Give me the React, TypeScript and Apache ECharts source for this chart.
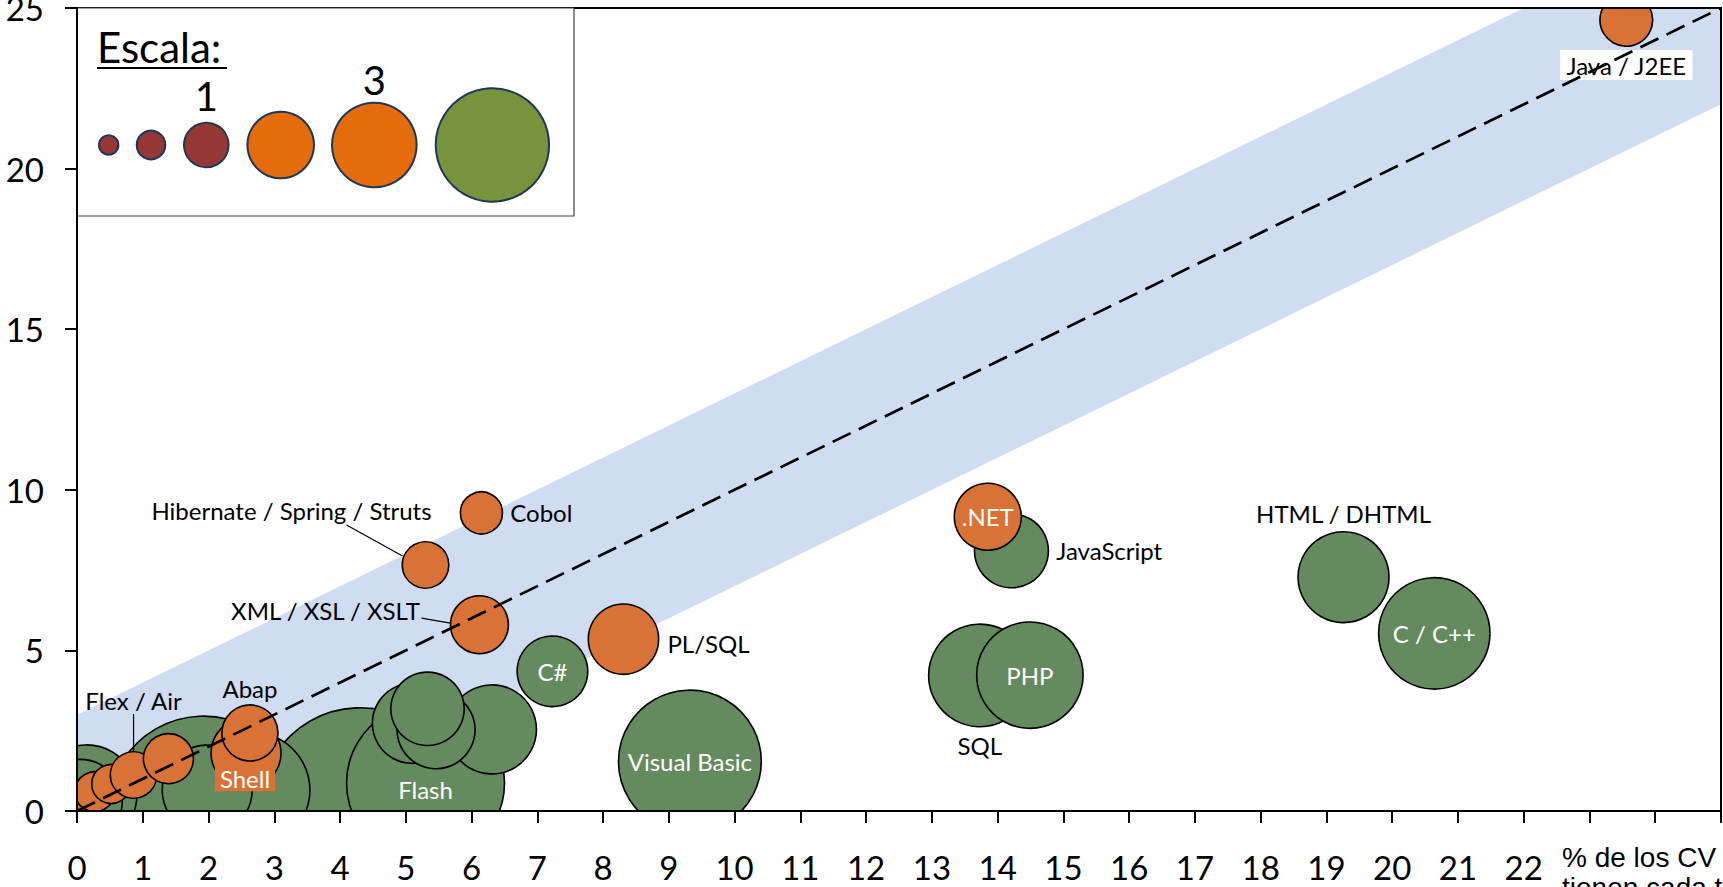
import React, { useEffect, useRef } from 'react';
import * as echarts from 'echarts';

// ---------- data ----------
const xTicksMaxLabel = 22;
const xMax = 25;
const yMax = 25;
const yInterval = 5;

// green bubbles (drawn bottom -> top)
const greenNames = ['', '', '', '', '', '', 'Flash', '', '', '', '', 'C#', 'Visual Basic', 'SQL', 'PHP', 'JavaScript', 'HTML / DHTML', 'C / C++'];
const greenX = [1.92, 0.15, 0.05, 4.30, 2.66, 1.98, 5.30, 6.31, 5.10, 5.46, 5.33, 7.23, 9.32, 13.73, 14.49, 14.21, 19.26, 20.64];
const greenY = [0.0, 0.5, 0.3, 0.1, 0.65, 0.65, 0.87, 2.54, 2.73, 2.53, 3.18, 4.35, 1.54, 4.22, 4.23, 8.10, 7.28, 5.53];
const greenSize = [18.1, 5.03, 3.55, 20.1, 6.76, 4.07, 12.55, 3.98, 3.22, 3.06, 2.71, 2.51, 10.25, 5.29, 5.69, 2.75, 4.16, 6.24];

// orange bubbles (drawn bottom -> top)
const orangeNames = ['', '', '', 'Flex / Air', '', 'Shell', 'Abap', 'XML / XSL / XSLT', 'Hibernate / Spring / Struts', 'Cobol', 'PL/SQL', '.NET', 'Java / J2EE'];
const orangeX = [0.05, 0.27, 0.52, 0.86, 1.39, 2.57, 2.63, 6.12, 5.30, 6.15, 8.31, 13.85, 23.56];
const orangeY = [0.22, 0.60, 0.84, 1.12, 1.63, 1.80, 2.43, 5.80, 7.66, 9.28, 5.35, 9.16, 24.63];
const orangeSize = [0.80, 0.80, 0.76, 1.09, 1.26, 2.46, 1.58, 1.69, 1.09, 0.89, 2.49, 2.26, 1.40];

// diagonal reference line and band
const diagX = [0, 25];
const diagY = [0, 25];
const bandHalfWidth = 3;

// scale legend
const scaleValues = [0.19, 0.41, 1, 2.23, 3.6, 6.46];
const scaleKinds = ['red', 'red', 'red', 'orange', 'orange', 'green'];
const scaleLabels = ['', '', '1', '', '3', ''];

const axisNameLines = ['% de los CV', 'tienen cada tecnología'];

// ---------- styles ----------
const FONT = 'Lato, "Noto Sans", sans-serif';
const GREEN = '#658a5f';
const ORANGE = '#d87236';
const UNIT_R = 22.3;
const sizeOf = (v: number) => 2 * UNIT_R * Math.sqrt(v);

const insideWhite = { position: 'inside', color: '#fff' };
const labelStyles: Record<string, any> = {
  'Visual Basic': { ...insideWhite },
  'Flash': { ...insideWhite, offset: [0, 6] },
  'C#': { ...insideWhite },
  'PHP': { ...insideWhite },
  'C / C++': { ...insideWhite },
  'SQL': { position: 'bottom', distance: 6 },
  'JavaScript': { position: 'right', distance: 7 },
  'HTML / DHTML': { position: 'top', distance: 5 },
  '.NET': { ...insideWhite },
  'Java / J2EE': { position: 'bottom', distance: 3, backgroundColor: '#fff', padding: [3, 6] },
  'Cobol': { position: 'right', distance: 7 },
  'PL/SQL': { position: 'right', distance: 8, offset: [0, 4] },
  'Abap': { position: 'top', distance: 4 },
  'Shell': { position: 'inside', color: '#fff', offset: [-1, 25], backgroundColor: ORANGE, padding: [1, 5] },
  'Flex / Air': { position: 'inside', offset: [0, -75] },
  'Hibernate / Spring / Struts': { position: 'inside', offset: [-134, -54] },
  'XML / XSL / XSLT': { position: 'inside', offset: [-154, -14] },
};

// leader lines relative to bubble centre (px)
const leaders: Record<string, number[]> = {
  'Flex / Air': [0, -61, 0, -23],
  'Hibernate / Spring / Struts': [-79, -40, -23, -9],
  'XML / XSL / XSLT': [-58, -6.5, -29, -1.5],
};

function buildData(names: string[], xs: number[], ys: number[], sizes: number[]) {
  return xs.map((x, i) => {
    const name = names[i];
    const item: any = { name, value: [x, ys[i], sizes[i]] };
    if (name && labelStyles[name]) {
      item.label = { show: true, formatter: name, ...labelStyles[name] };
    }
    return item;
  });
}

export default function App() {
  const ref = useRef<HTMLDivElement>(null);
  useEffect(() => {
    const chart = echarts.init(ref.current!, null, { renderer: 'svg' });
    const bubbleLabel = { show: false, fontFamily: FONT, fontSize: 24, color: '#000' };
    const option: any = {
      animation: false,
      backgroundColor: '#fff',
      grid: { left: 77, top: 8, right: 2, bottom: 76, containLabel: false, outerBoundsMode: 'none' },
      xAxis: {
        type: 'value', min: 0, max: xMax, interval: 1, z: 10,
        axisLine: { show: true, onZero: false, lineStyle: { color: '#000', width: 2 } },
        axisTick: { show: true, length: 12, lineStyle: { color: '#000', width: 2 } },
        axisLabel: {
          margin: 39, fontSize: 33, fontFamily: FONT, color: '#000', showMaxLabel: true,
          formatter: (v: number) => (v <= xTicksMaxLabel ? String(v) : ''),
        },
        splitLine: { show: false },
      },
      yAxis: {
        type: 'value', min: 0, max: yMax, interval: yInterval, z: 10,
        axisLine: { show: true, onZero: false, lineStyle: { color: '#000', width: 2 } },
        axisTick: { show: true, length: 12, lineStyle: { color: '#000', width: 2 } },
        axisLabel: { margin: 33, fontSize: 33, fontFamily: FONT, color: '#000', showMaxLabel: true },
        splitLine: { show: false },
      },
      series: [
        {
          type: 'custom', z: 1, clip: true, silent: true,
          data: [[diagX[0], diagX[1], bandHalfWidth]],
          renderItem: (params: any, api: any) => {
            const x0 = api.value(0), x1 = api.value(1), w = api.value(2);
            const pts = [api.coord([x0, x0 - w]), api.coord([x1, x1 - w]), api.coord([x1, x1 + w]), api.coord([x0, x0 + w])];
            return { type: 'polygon', shape: { points: pts }, style: { fill: '#d0dcf1' } };
          },
        },
        {
          type: 'scatter', z: 2, silent: true,
          symbolSize: (val: number[]) => sizeOf(val[2]),
          itemStyle: { color: GREEN, borderColor: '#000', borderWidth: 1.6, opacity: 1 },
          label: bubbleLabel,
          data: buildData(greenNames, greenX, greenY, greenSize),
        },
        {
          type: 'scatter', z: 2, silent: true,
          symbolSize: (val: number[]) => sizeOf(val[2]),
          itemStyle: { color: ORANGE, borderColor: '#000', borderWidth: 1.6, opacity: 1 },
          label: bubbleLabel,
          data: buildData(orangeNames, orangeX, orangeY, orangeSize),
        },
        {
          type: 'line', z: 3, silent: true, symbol: 'none',
          lineStyle: { color: '#000', width: 2.7, type: [20, 9] },
          data: diagX.map((x, i) => [x, diagY[i]]),
        },
      ],
    };
    chart.setOption(option);

    const px = (x: number, y: number) => chart.convertToPixel({ gridIndex: 0 }, [x, y]) as number[];
    const g: any[] = [];
    // masks outside plot area
    g.push({ type: 'rect', z: 5, silent: true, shape: { x: 0, y: 811, width: 1723, height: 76 }, style: { fill: '#fff' } });
    g.push({ type: 'rect', z: 5, silent: true, shape: { x: 0, y: 0, width: 77, height: 887 }, style: { fill: '#fff' } });
    g.push({ type: 'rect', z: 5, silent: true, shape: { x: 0, y: 0, width: 1723, height: 8 }, style: { fill: '#fff' } });
    // plot border
    g.push({ type: 'rect', z: 6, silent: true, shape: { x: 77, y: 8, width: 1644, height: 803 }, style: { fill: 'none', stroke: '#000', lineWidth: 2 } });
    // leader lines
    orangeNames.forEach((n, i) => {
      const l = leaders[n];
      if (!l) return;
      const c = px(orangeX[i], orangeY[i]);
      g.push({ type: 'line', z: 4, silent: true, shape: { x1: c[0] + l[0], y1: c[1] + l[1], x2: c[0] + l[2], y2: c[1] + l[3] }, style: { stroke: '#000', lineWidth: 1.2 } });
    });
    // scale legend
    g.push({ type: 'rect', z: 7, silent: true, shape: { x: 77, y: 8, width: 497, height: 208 }, style: { fill: '#fff', stroke: '#404040', lineWidth: 1.2 } });
    g.push({ type: 'text', z: 8, silent: true, x: 97, y: 47, style: { text: 'Escala:', fontFamily: FONT, fontSize: 42, fill: '#000', align: 'left', verticalAlign: 'middle' } });
    g.push({ type: 'line', z: 8, silent: true, shape: { x1: 97, y1: 68, x2: 227, y2: 68 }, style: { stroke: '#000', lineWidth: 2 } });
    const legendCx = [108.7, 151, 206.3, 280.7, 374.3, 492.4];
    const labelCy = [0, 0, 96, 0, 80, 0];
    const kindColor: Record<string, string> = { red: '#953735', orange: '#e46c0a', green: '#77933c' };
    scaleValues.forEach((v, i) => {
      const r = sizeOf(v) / 2;
      g.push({ type: 'circle', z: 8, silent: true, shape: { cx: legendCx[i], cy: 145, r }, style: { fill: kindColor[scaleKinds[i]], stroke: '#1f3657', lineWidth: 2 } });
      if (scaleLabels[i]) {
        g.push({ type: 'text', z: 8, silent: true, x: legendCx[i], y: labelCy[i], style: { text: scaleLabels[i], fontFamily: FONT, fontSize: 40, fill: '#000', align: 'center', verticalAlign: 'middle' } });
      }
    });
    // x-axis name
    g.push({ type: 'text', z: 10, silent: true, x: 1562, y: 842, style: { text: axisNameLines.join('\n'), fontFamily: '"Liberation Sans", Arial, sans-serif', fontSize: 28, lineHeight: 30, fill: '#000', align: 'left', verticalAlign: 'top' } });
    chart.setOption({ graphic: g });

    return () => chart.dispose();
  }, []);
  return <div ref={ref} style={{ position: 'fixed', left: 0, top: 0, width: 1723, height: 887 }} />;
}
